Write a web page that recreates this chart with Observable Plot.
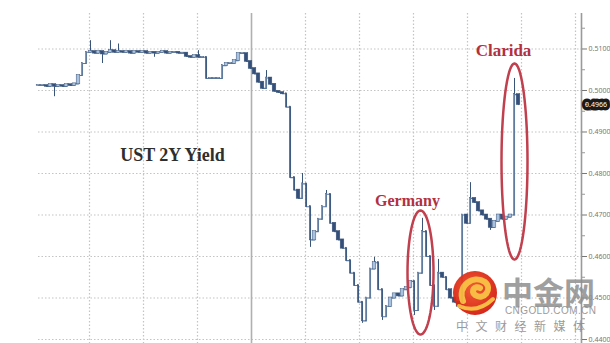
<!DOCTYPE html>
<html><head><meta charset="utf-8">
<script src="https://cdn.jsdelivr.net/npm/d3@7"></script>
<script src="https://cdn.jsdelivr.net/npm/@observablehq/plot@0.6"></script>
<style>
html,body{margin:0;padding:0;background:#fff;}
#wrap{position:relative;width:610px;height:343px;overflow:hidden;}
.wm{position:absolute;color:#8a8a8a;white-space:nowrap;opacity:0.85;}
</style></head><body>
<div id="wrap">
  <div id="chart"></div>
  <svg style="position:absolute;left:450px;top:268px;opacity:0.95" width="52" height="52" viewBox="450 268 52 52">
    <defs><radialGradient id="lg" cx="45%" cy="40%" r="60%"><stop offset="0%" stop-color="#f2552a"/><stop offset="100%" stop-color="#d41d12"/></radialGradient></defs>
    <circle cx="475" cy="293" r="22" fill="url(#lg)"/>
    <path d="M463 301 C457 286 473 274 485 282 C493 289 484 301 475 295 C470 291 475 285 480 288" fill="none" stroke="#f8b93b" stroke-width="6" stroke-linecap="round"/>
    <path d="M459 306 Q477 314 493 299" fill="none" stroke="#f8b93b" stroke-width="4" stroke-linecap="round"/>
  </svg>
  <div class="wm" style="left:502px;top:268px;font:bold 31px 'Noto Sans CJK SC';color:#8f8f8f;">中金网</div>
  <div class="wm" style="left:505px;top:305px;font:10px 'Liberation Sans';letter-spacing:0.4px;">CNGOLD.COM.CN</div>
  <div class="wm" style="left:456px;top:317px;font:12px 'Noto Sans CJK SC';letter-spacing:7.5px;">中文财经新媒体</div>
</div>
<script>
const closes = [
  0.5012,0.5012,0.5010,0.5014,0.5010,0.5012,0.5010,0.5014,0.5012,0.5016,
  0.5036,0.5065,0.5092,0.5094,0.5090,0.5094,0.5088,0.5092,0.5096,0.5092,
  0.5094,0.5092,0.5094,0.5090,0.5094,0.5092,0.5094,0.5090,0.5092,0.5090,
  0.5092,0.5094,0.5090,0.5092,0.5092,0.5090,0.5090,0.5082,0.5080,0.5084,
  0.5080,0.5080,0.5029,0.5029,0.5029,0.5029,0.5060,0.5065,0.5065,0.5072,
  0.5089,0.5089,0.5070,0.5053,0.5040,0.5020,0.5005,0.5030,0.5015,0.4998,
  0.4995,0.4992,0.4960,0.4790,0.4760,0.4740,0.4775,0.4720,0.4640,0.4660,
  0.4690,0.4720,0.4750,0.4680,0.4660,0.4640,0.4620,0.4590,0.4560,0.4530,
  0.4490,0.4445,0.4500,0.4570,0.4585,0.4520,0.4455,0.4480,0.4500,0.4510,
  0.4505,0.4520,0.4525,0.4540,0.4470,0.4560,0.4660,0.4600,0.4530,0.4480,
  0.4560,0.4550,0.4520,0.4500,0.4490,0.4480,0.4700,0.4680,0.4740,0.4730,
  0.4710,0.4700,0.4690,0.4670,0.4685,0.4700,0.4690,0.4695,0.4700,0.4990,
  0.4966
];
const extremes = [[4,0.4985],[13,0.5120],[16,0.5065],[18,0.5120],[20,0.5112],[29,0.5080],
  [40,0.5096],[57,0.5048],[63,0.4945],[66,0.4800],[68,0.4622],[72,0.4759],[81,0.4439],
  [84,0.4598],[86,0.4446],[94,0.4458],[96,0.4692],[99,0.4470],[100,0.4593],[105,0.4482],
  [108,0.4778],[113,0.4663],[119,0.5029]];
const yTicks = [0.44,0.45,0.46,0.47,0.48,0.49,0.50,0.51];
const yMinor = [0.445,0.455,0.465,0.475,0.485,0.495,0.505,0.515];
const timeGrid = [12.75,26.25,39.75,66.75,80.25,93.75,107.25,120.75,134.25];
const sessionBreak = [53.25];
const labels = [
  {text:"UST 2Y Yield", x:33.5, y:0.48434, color:"#2e2e2e", size:18},
  {text:"Germany", x:92.25, y:0.47349, color:"#b3303f", size:16},
  {text:"Clarida", x:116.25, y:0.50964, color:"#b3303f", size:17}
];
const ellipses = [
  {name:"Germany", cx:95.5, cy:0.45614, rx:3.25, ry:0.01494},
  {name:"Clarida", cx:119, cy:0.48289, rx:3.25, ry:0.02361}
];

const X1 = 135.75;
const bars = closes.map((c,i)=>({i, open: i ? closes[i-1] : c, close: c}));
const halfW = d => Math.abs(d.close - d.open) > 0.0025 ? 0.14 : 0.45;
const ellPts = ellipses.flatMap(e => d3.range(0, 361, 5).map(a => ({
  name:e.name, x: e.cx + e.rx*Math.cos(a*Math.PI/180), y: e.cy + e.ry*Math.sin(a*Math.PI/180)})));
const last = closes[closes.length-1];

const chart = Plot.plot({
  width:610, height:343, marginLeft:38, marginRight:29, marginTop:13, marginBottom:0,
  x:{domain:[0,X1], axis:null},
  y:{domain:[0.43904,0.51855], axis:null},
  style:{background:"#fff", overflow:"visible"},
  marks:[
    Plot.ruleY(yTicks, {stroke:"#c4c4c4", strokeDasharray:"1.5,2", strokeWidth:1.2}),
    Plot.ruleX(timeGrid, {stroke:"#c4c4c4", strokeDasharray:"1.5,2", strokeWidth:1.2}),
    Plot.ruleX(sessionBreak, {stroke:"#b0b0b0", strokeWidth:1.6}),
    Plot.ruleX([X1], {stroke:"#9a9a9a", strokeWidth:1.6}),
    Plot.axisY({anchor:"right", ticks:yTicks, tickFormat:d3.format(".4f"), tickSize:5, tickPadding:2, fontSize:7, color:"#777"}),
    Plot.axisY({anchor:"right", ticks:yMinor, tickFormat:()=>"", tickSize:3, color:"#999"}),
    Plot.ruleX(extremes, {x:d=>d[0], y1:d=>closes[d[0]], y2:d=>d[1], stroke:"#3a5478", strokeWidth:1}),
    Plot.line(bars, {x:"i", y:"close", curve:"step-after", stroke:"#5b7aa0", strokeWidth:1.1}),
    Plot.rect(bars, {x1:d=>d.i-halfW(d), x2:d=>d.i+halfW(d),
      y1:d=>Math.min(d.open,d.close)-0.00012, y2:d=>Math.max(d.open,d.close)+0.00012,
      fill:d=>d.close>=d.open ? "#a9c2e0" : "#34507a", stroke:"#3a5478", strokeWidth:0.5}),
    Plot.line(ellPts, {x:"x", y:"y", z:"name", stroke:"#c0404e", strokeWidth:2.5}),
    Plot.text(labels, {x:"x", y:"y", text:"text", fill:d=>d.color, fontSize:d=>d.size,
      fontFamily:"Liberation Serif", fontWeight:"bold"}),
    Plot.text([last], {x:X1, y:d=>d, dx:14.5, text:d=>d3.format(".4f")(d), fill:"#fff",
      stroke:"#1a1a1a", strokeWidth:7, strokeLinejoin:"round", paintOrder:"stroke", fontSize:7})
  ]
});
document.getElementById("chart").appendChild(chart);
</script>
</body></html>
